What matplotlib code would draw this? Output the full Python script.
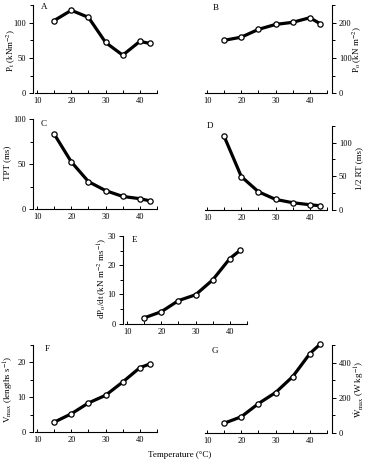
import matplotlib
matplotlib.use("Agg")
import matplotlib.pyplot as plt
from matplotlib.ticker import MultipleLocator

plt.rcParams['font.family'] = ['Liberation Serif', 'DejaVu Serif']
plt.rcParams['mathtext.fontset'] = 'stix'

temperature = [15, 20, 25, 30, 35, 40, 43]
Pt = [103, 117.5, 107.5, 72, 54, 73.5, 70.5]
Po = [150, 159, 181, 195, 201, 214, 197]
TPT = [83.5, 52.5, 30.5, 20.5, 14, 11.5, 9]
half_RT = [109, 49.5, 27, 15.7, 10.8, 7.8, 6.3]
dPo_dt = [2.0, 4.1, 7.9, 9.9, 15.0, 22.3, 25.1]
Vmax = [2.9, 5.3, 8.4, 10.6, 14.4, 18.5, 19.6]
Wmax = [54, 91, 166, 229, 320, 451, 505]

x_ticks = [10, 20, 30, 40]

W, H = 366, 467
fig = plt.figure(figsize=(W / 100, H / 100), dpi=100)


def rect(x0, x1, ytop, ybot):
    return [x0 / W, 1 - ybot / H, (x1 - x0) / W, (ybot - ytop) / H]


def panel(r, y, ylim, major, minor, side, letter, lpos, ylabel, ylpos):
    ax = fig.add_axes(r)
    ax.plot(temperature, y, color='black', lw=2.3, marker='o', ms=3.8,
            mfc='white', mec='black', mew=0.9, zorder=3, clip_on=False)
    ax.set_xlim(9.4, 45)
    ax.set_ylim(*ylim)
    ax.set_xticks(x_ticks)
    ax.xaxis.set_minor_locator(MultipleLocator(5))
    ax.yaxis.set_major_locator(MultipleLocator(major))
    ax.yaxis.set_minor_locator(MultipleLocator(minor))
    ax.spines['top'].set_visible(False)
    if side == 'left':
        ax.spines['right'].set_visible(False)
        ax.spines['left'].set_position(('outward', 1.5))
    else:
        ax.spines['left'].set_visible(False)
        ax.spines['right'].set_position(('outward', 3.5))
        ax.yaxis.tick_right()
    for s in ax.spines.values():
        s.set_linewidth(0.8)
    ax.tick_params(axis='x', which='both', direction='in', labelsize=6, pad=3, width=0.7)
    ax.tick_params(axis='x', which='major', length=2.5)
    ax.tick_params(axis='x', which='minor', length=2)
    ax.tick_params(axis='y', which='both', direction='out', labelsize=6, pad=2, width=0.7)
    ax.tick_params(axis='y', which='major', length=3)
    ax.tick_params(axis='y', which='minor', length=2)
    ax.patch.set_alpha(0)
    fig.text(lpos[0] / W, 1 - lpos[1] / H, letter, fontsize=6.5, va='center', ha='left')
    fig.text(ylpos[0] / W, 1 - ylpos[1] / H, ylabel, fontsize=6.5, rotation=90,
             va='center', ha='center')
    return ax


panel(rect(35, 157, 5, 93.3), Pt, (0, 125), 50, 25, 'left', 'A', (41, 7),
      r'P$_{\rm t}$ (kNm$^{-2}$)', (11, 50))
panel(rect(205, 327, 5, 93.3), Po, (0, 250), 100, 50, 'right', 'B', (213, 8),
      r'P$_{\rm o}$ (kN m$^{-2}$)', (357, 50))
panel(rect(35, 157, 119.3, 209), TPT, (0, 100), 50, 25, 'left', 'C', (41, 124),
      'TPT (ms)', (7, 163))
panel(rect(205, 327, 125.7, 210), half_RT, (0, 125), 50, 25, 'right', 'D', (207, 126),
      '1/2 RT (ms)', (359, 168))
panel(rect(125, 247, 236, 323.7), dPo_dt, (0, 30), 10, 5, 'left', 'E', (132, 240),
      r'dP$_{\rm o}$/dt (kN m$^{-2}$ ms$^{-1}$)', (102, 278))
panel(rect(35, 157, 345, 432.3), Vmax, (0, 25), 10, 5, 'left', 'F', (45, 349),
      r'V$_{\rm max}$ (lengths s$^{-1}$)', (9, 389))
panel(rect(205, 327, 345, 432.7), Wmax, (0, 500), 200, 100, 'right', 'G', (212, 351),
      r'$\dot{\rm W}_{\rm max}$ (W kg$^{-1}$)', (359, 389))

fig.text(180 / W, 1 - 455 / H, 'Temperature (°C)', fontsize=6.5, ha='center', va='center')

fig.savefig('out.png', dpi=100)
